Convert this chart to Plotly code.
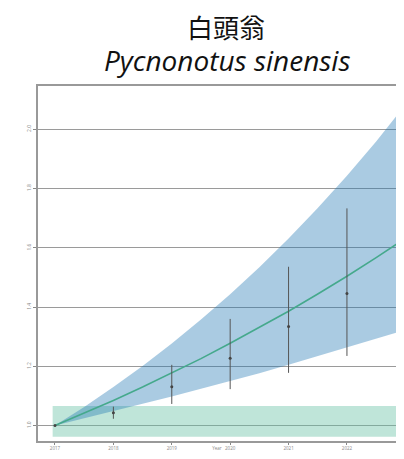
import plotly.graph_objects as go

# trend years
years = [2017, 2017.5, 2018, 2018.5, 2019, 2019.5, 2020, 2020.5, 2021, 2021.5, 2022, 2022.5, 2023]
trend = [1.0, 1.042, 1.085, 1.13, 1.177, 1.226, 1.278, 1.331, 1.386, 1.444, 1.504, 1.567, 1.632]
band_upper = [1.0, 1.063, 1.13, 1.201, 1.277, 1.358, 1.443, 1.534, 1.631, 1.734, 1.843, 1.959, 2.082]
band_lower = [1.0, 1.024, 1.048, 1.073, 1.098, 1.124, 1.15, 1.177, 1.205, 1.234, 1.263, 1.292, 1.323]

# yearly index with error bars
obs_years = [2017, 2018, 2019, 2020, 2021, 2022]
obs_index = [1.0, 1.043, 1.131, 1.227, 1.334, 1.446]
obs_high = [1.0, 1.064, 1.205, 1.36, 1.536, 1.733]
obs_low = [1.0, 1.023, 1.073, 1.123, 1.178, 1.235]

# stable zone
stable_x = [2016.96, 2023]
stable_low = [0.962, 0.962]
stable_high = [1.066, 1.066]

tick_years = [2017, 2018, 2019, 2020, 2021, 2022, 2023]
tick_vals = [1.0, 1.2, 1.4, 1.6, 1.8, 2.0]

fig = go.Figure()

fig.add_trace(go.Scatter(x=stable_x, y=stable_low, mode='lines',
                         line=dict(width=0), showlegend=False, hoverinfo='skip'))
fig.add_trace(go.Scatter(x=stable_x, y=stable_high, mode='lines', fill='tonexty',
                         fillcolor='rgba(102,194,165,0.42)',
                         line=dict(width=0), showlegend=False, hoverinfo='skip'))

fig.add_trace(go.Scatter(x=years, y=band_lower, mode='lines',
                         line=dict(width=0), showlegend=False, hoverinfo='skip'))
fig.add_trace(go.Scatter(x=years, y=band_upper, mode='lines', fill='tonexty',
                         fillcolor='rgba(31,119,180,0.38)',
                         line=dict(width=0), showlegend=False, hoverinfo='skip'))

fig.add_trace(go.Scatter(x=years, y=trend, mode='lines',
                         line=dict(color='#45a98c', width=1.6), showlegend=False))

err_plus = [h - v for h, v in zip(obs_high, obs_index)]
err_minus = [v - l for v, l in zip(obs_index, obs_low)]
fig.add_trace(go.Scatter(x=obs_years, y=obs_index, mode='markers',
                         marker=dict(color='#444', size=3),
                         error_y=dict(type='data', array=err_plus, arrayminus=err_minus,
                                      color='#555', thickness=1, width=0),
                         showlegend=False))

# page body has an 8px margin: keep the whole page inside the 404x459 window
fig.update_layout(
    width=388, height=443,
    margin=dict(l=30, r=0, t=78, b=10),
    paper_bgcolor='white', plot_bgcolor='white',
)
fig.add_annotation(text='白頭翁', xref='paper', yref='paper', x=0.5265, y=1.167,
                   xanchor='center', yanchor='middle', showarrow=False,
                   font=dict(family='Noto Sans CJK TC', size=26, color='#111'))
fig.add_annotation(text='<i>Pycnonotus sinensis</i>', xref='paper', yref='paper',
                   x=0.528, y=1.073, xanchor='center', yanchor='middle',
                   showarrow=False, font=dict(family='Open Sans', size=28, color='#111'))

fig.update_xaxes(range=[2016.709, 2022.84], tickvals=tick_years, automargin=False,
                 tickfont=dict(size=4.5, color='#888'), ticks='outside', ticklen=2,
                 tickcolor='#888', showgrid=False, zeroline=False,
                 showline=True, linecolor='#999', linewidth=1.5, mirror=True,
                 title=dict(text='Year', font=dict(size=4.5, color='#888'), standoff=2))
fig.update_yaxes(range=[0.948, 2.146], tickvals=tick_vals, tickformat='.1f', automargin=False,
                 tickangle=-90, tickfont=dict(size=5, color='#888'),
                 ticks='outside', ticklen=3, tickcolor='#888',
                 showgrid=True, gridcolor='#9a9a9a', gridwidth=1.3, zeroline=False,
                 showline=True, linecolor='#999', linewidth=1.5)

fig.write_html("out.html")
